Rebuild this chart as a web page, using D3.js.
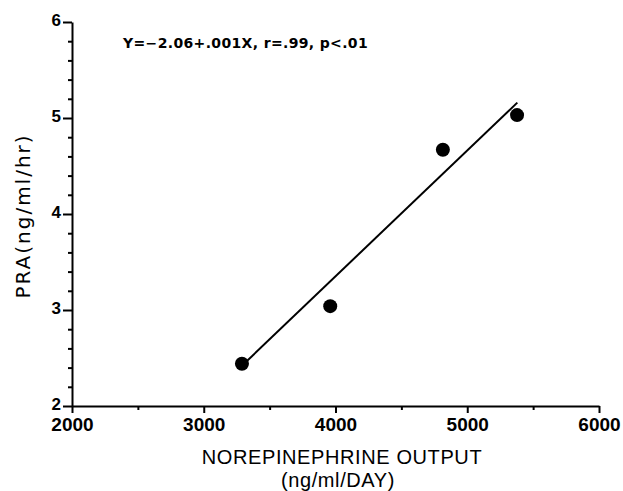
<!DOCTYPE html>
<html>
<head>
<meta charset="utf-8">
<script src="https://cdn.jsdelivr.net/npm/d3@7"></script>
<style>
  body { margin: 0; background: #fff; }
  svg { display: block; font-family: "Liberation Sans", Arial, sans-serif; }
</style>
</head>
<body>
<div id="chart"></div>
<script>
// Data
var noreOutput = [3290, 3960, 4815, 5378];
var praValues = [2.44, 3.04, 4.67, 5.03];
var fitX = [3290, 5380];
var fitY = [2.42, 5.16];
var xTicks = [2000, 3000, 4000, 5000, 6000];
var yTicks = [2, 3, 4, 5, 6];
var equation = "Y=\u22122.06+.001X, r=.99, p<.01";

var width = 623, height = 491;
var plotLeft = 72, plotRight = 599, plotTop = 22, plotBottom = 406;

var svg = d3.select("#chart").append("svg")
  .attr("width", width)
  .attr("height", height);

// scales
var x = d3.scaleLinear().domain([2000, 6000]).range([plotLeft, plotRight]);
var y = d3.scaleLinear().domain([2, 6]).range([plotBottom, plotTop]);

// minor ticks
svg.append("g")
  .attr("transform", "translate(0," + plotBottom + ")")
  .call(d3.axisBottom(x).tickValues(d3.range(2500, 6000, 1000)).tickSize(4).tickFormat(""))
  .call(g => g.select(".domain").remove())
  .call(g => g.selectAll("line").attr("stroke-width", 2));

svg.append("g")
  .attr("transform", "translate(" + plotLeft + ",0)")
  .call(d3.axisLeft(y).tickValues(d3.range(2, 6.001, 0.2).filter(v => Math.abs(v - Math.round(v)) > 0.01)).tickSize(4).tickFormat(""))
  .call(g => g.select(".domain").remove())
  .call(g => g.selectAll("line").attr("stroke-width", 2));

// major ticks + labels
var xAxis = svg.append("g")
  .attr("transform", "translate(0," + plotBottom + ")")
  .call(d3.axisBottom(x).tickValues(xTicks).tickSize(7).tickSizeOuter(0).tickPadding(5).tickFormat(d3.format("d")));
xAxis.select(".domain").attr("stroke-width", 2);
xAxis.selectAll("line").attr("stroke-width", 2);
xAxis.selectAll("text")
  .attr("font-size", 19)
  .attr("font-weight", "bold")
  .attr("font-family", "Liberation Sans")
  .attr("fill", "#000");

var yAxis = svg.append("g")
  .attr("transform", "translate(" + plotLeft + ",0)")
  .call(d3.axisLeft(y).tickValues(yTicks).tickSize(9).tickSizeOuter(0).tickPadding(2).tickFormat(d3.format("d")));
yAxis.select(".domain").attr("stroke-width", 2);
yAxis.selectAll("line").attr("stroke-width", 2);
yAxis.selectAll("text")
  .attr("font-size", 17)
  .attr("font-weight", "bold")
  .attr("font-family", "Liberation Sans")
  .attr("dy", "0.22em")
  .attr("fill", "#000");

// regression line
var line = d3.line().x(d => x(d[0])).y(d => y(d[1]));
svg.append("path")
  .datum(d3.zip(fitX, fitY))
  .attr("d", line)
  .attr("fill", "none")
  .attr("stroke", "#000")
  .attr("stroke-width", 2);

// points
svg.selectAll("circle.pt")
  .data(d3.zip(noreOutput, praValues))
  .join("circle")
  .attr("class", "pt")
  .attr("cx", d => x(d[0]))
  .attr("cy", d => y(d[1]))
  .attr("r", 7)
  .attr("fill", "#000");

// equation
svg.append("text")
  .attr("x", 123)
  .attr("y", 48)
  .attr("font-family", "DejaVu Sans")
  .attr("font-size", 14)
  .attr("font-weight", "bold")
  .attr("letter-spacing", 0.35)
  .text(equation);

// axis titles
svg.append("text")
  .attr("x", 342)
  .attr("y", 464)
  .attr("text-anchor", "middle")
  .attr("font-size", 20)
  .attr("letter-spacing", 0.6)
  .text("NOREPINEPHRINE OUTPUT");

svg.append("text")
  .attr("x", 338)
  .attr("y", 487)
  .attr("text-anchor", "middle")
  .attr("font-size", 20)
  .attr("letter-spacing", 0.6)
  .text("(ng/ml/DAY)");

svg.append("text")
  .attr("transform", "translate(30,216) rotate(-90)")
  .attr("text-anchor", "middle")
  .attr("font-family", "DejaVu Sans")
  .attr("font-size", 20)
  .attr("letter-spacing", 2)
  .text("PRA(ng/ml/hr)");
</script>
</body>
</html>
